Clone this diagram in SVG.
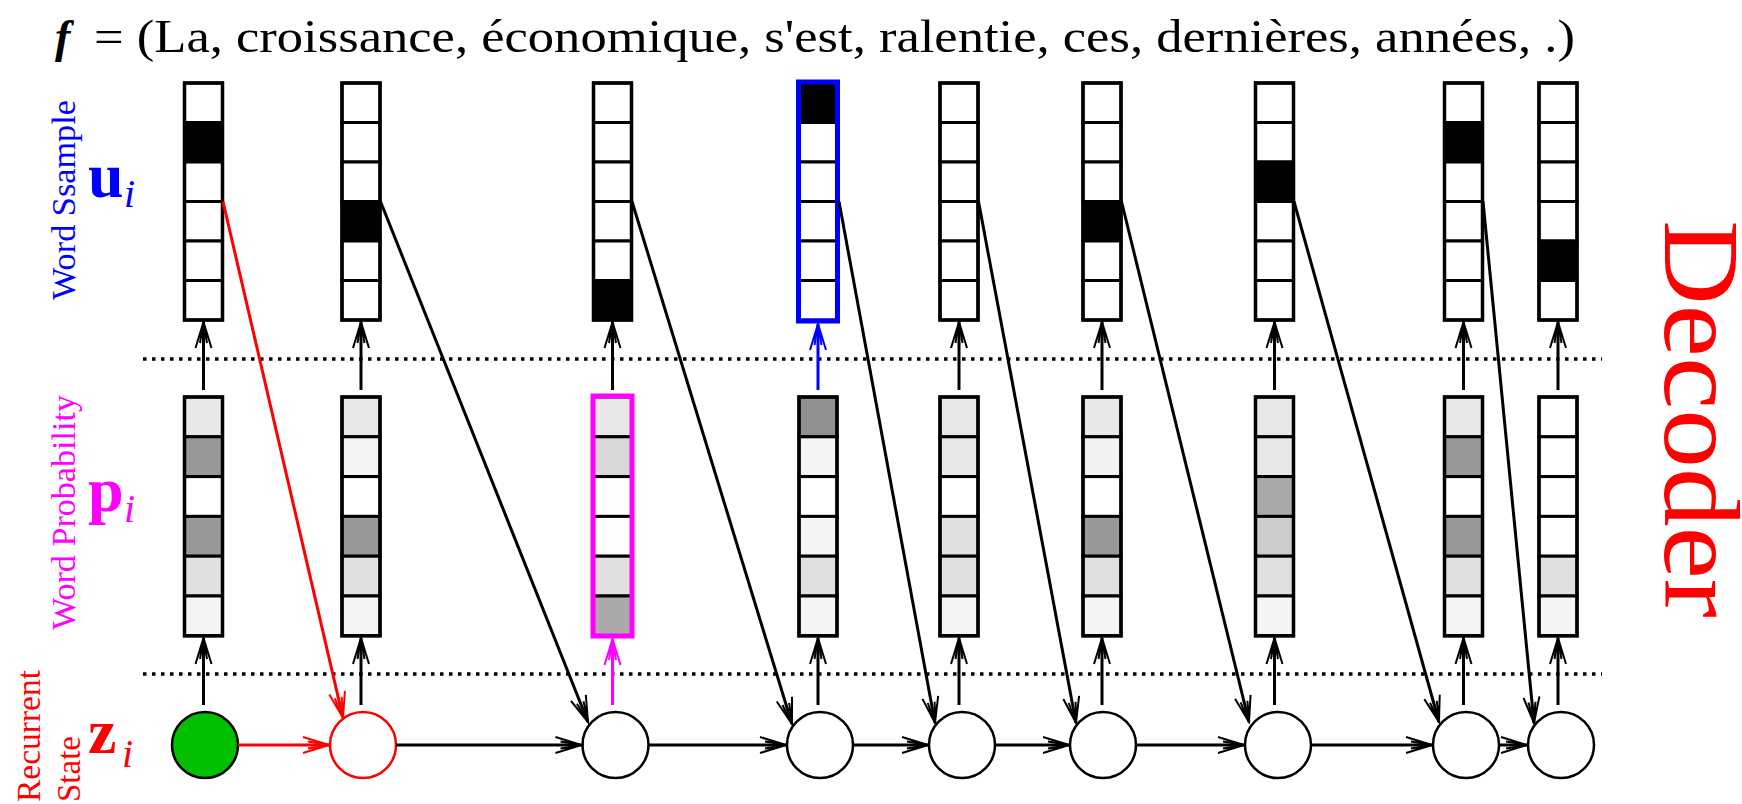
<svg xmlns="http://www.w3.org/2000/svg" width="1742" height="804" viewBox="0 0 1742 804">
  <style>
    text { font-family: "Liberation Serif", "Times New Roman", serif; }
    .cell { stroke: #000; stroke-width: 3; }
    .frame { fill: none; stroke: #000; stroke-width: 3.5; }
    .on { fill: #000; }
    .off { fill: #fff; }
    .state { fill: #fff; stroke: #000; stroke-width: 2.5; }
    .link { fill: none; stroke: #000; stroke-width: 3; }
    .link-red { fill: none; stroke: #ff0000; stroke-width: 3; }
    .sep { fill: none; stroke: #000; stroke-width: 3.5; stroke-dasharray: 3.5 5.5; }
    .lbl { font-size: 33px; }
  </style>
  <defs>
    <marker id="ah" markerUnits="userSpaceOnUse" viewBox="-28 -10 30 20" markerWidth="30" markerHeight="20" refX="0" refY="0" orient="auto">
      <path d="M-26,-8 L0,0 L-26,8 M-21,-3.5 L0,0 L-21,3.5" fill="none" stroke="#000" stroke-width="2"/>
    </marker>
    <marker id="ah-red" markerUnits="userSpaceOnUse" viewBox="-28 -10 30 20" markerWidth="30" markerHeight="20" refX="0" refY="0" orient="auto">
      <path d="M-26,-8 L0,0 L-26,8 M-21,-3.5 L0,0 L-21,3.5" fill="none" stroke="#ff0000" stroke-width="2"/>
    </marker>
    <marker id="ah-mag" markerUnits="userSpaceOnUse" viewBox="-28 -10 30 20" markerWidth="30" markerHeight="20" refX="0" refY="0" orient="auto">
      <path d="M-26,-8 L0,0 L-26,8 M-21,-3.5 L0,0 L-21,3.5" fill="none" stroke="#ff00ff" stroke-width="2"/>
    </marker>
    <marker id="ah-blue" markerUnits="userSpaceOnUse" viewBox="-28 -10 30 20" markerWidth="30" markerHeight="20" refX="0" refY="0" orient="auto">
      <path d="M-26,-8 L0,0 L-26,8 M-21,-3.5 L0,0 L-21,3.5" fill="none" stroke="#0000ff" stroke-width="2"/>
    </marker>
  </defs>

  <rect width="1742" height="804" fill="#fff"/>

  <!-- title: target sentence -->
  <text x="55" y="52" font-family="Liberation Serif, serif" font-size="46" font-style="italic" font-weight="bold">f</text>
  <text x="94" y="52" font-family="Liberation Serif, serif" font-size="46" textLength="1481" lengthAdjust="spacingAndGlyphs">= (La, croissance, économique, s'est, ralentie, ces, dernières, années, .)</text>

  <!-- row labels -->
  <text class="lbl" font-family="Liberation Serif, serif" fill="#0000ff" transform="translate(75,300) rotate(-90)" textLength="200" lengthAdjust="spacingAndGlyphs">Word Ssample</text>
  <text x="88" y="197" font-family="Liberation Serif, serif" font-size="64" font-weight="bold" fill="#0000ff">u</text>
  <text x="124" y="207" font-family="Liberation Serif, serif" font-size="40" font-style="italic" fill="#0000ff">i</text>

  <text class="lbl" font-family="Liberation Serif, serif" fill="#ff00ff" transform="translate(75,630) rotate(-90)" textLength="235" lengthAdjust="spacingAndGlyphs">Word Probability</text>
  <text x="88" y="511" font-family="Liberation Serif, serif" font-size="64" font-weight="bold" fill="#ff00ff">p</text>
  <text x="124" y="522" font-family="Liberation Serif, serif" font-size="40" font-style="italic" fill="#ff00ff">i</text>

  <text class="lbl" font-family="Liberation Serif, serif" fill="#ff0000" transform="translate(40,802) rotate(-90)" textLength="132" lengthAdjust="spacingAndGlyphs">Recurrent</text>
  <text class="lbl" font-family="Liberation Serif, serif" fill="#ff0000" transform="translate(80,802) rotate(-90)" textLength="66" lengthAdjust="spacingAndGlyphs">State</text>
  <text x="88" y="753" font-family="Liberation Serif, serif" font-size="64" font-weight="bold" fill="#ff0000">z</text>
  <text x="122" y="767" font-family="Liberation Serif, serif" font-size="40" font-style="italic" fill="#ff0000">i</text>

  <text x="0" y="0" font-family="Liberation Serif, serif" font-size="108" fill="#ff0000" transform="translate(1665,220) rotate(90)" textLength="398" lengthAdjust="spacingAndGlyphs">Decoder</text>

  <!-- layer separators -->
  <line class="sep" x1="143" y1="359" x2="1602" y2="359"/>
  <line class="sep" x1="143" y1="674" x2="1602" y2="674"/>

  <!-- word sample vectors u_i (one-hot) -->
  <g id="u1" transform="translate(184.5,0)">
    <rect class="cell off" x="0" y="83" width="38" height="39.5"/><rect class="cell on" x="0" y="122.5" width="38" height="39.5"/><rect class="cell off" x="0" y="162" width="38" height="39.5"/><rect class="cell off" x="0" y="201.5" width="38" height="39.5"/><rect class="cell off" x="0" y="241" width="38" height="39.5"/><rect class="cell off" x="0" y="280.5" width="38" height="39.5"/>
    <rect class="frame" x="0" y="83" width="38" height="237"/>
  </g>
  <g id="u2" transform="translate(342,0)">
    <rect class="cell off" x="0" y="83" width="38" height="39.5"/><rect class="cell off" x="0" y="122.5" width="38" height="39.5"/><rect class="cell off" x="0" y="162" width="38" height="39.5"/><rect class="cell on" x="0" y="201.5" width="38" height="39.5"/><rect class="cell off" x="0" y="241" width="38" height="39.5"/><rect class="cell off" x="0" y="280.5" width="38" height="39.5"/>
    <rect class="frame" x="0" y="83" width="38" height="237"/>
  </g>
  <g id="u3" transform="translate(593.5,0)">
    <rect class="cell off" x="0" y="83" width="38" height="39.5"/><rect class="cell off" x="0" y="122.5" width="38" height="39.5"/><rect class="cell off" x="0" y="162" width="38" height="39.5"/><rect class="cell off" x="0" y="201.5" width="38" height="39.5"/><rect class="cell off" x="0" y="241" width="38" height="39.5"/><rect class="cell on" x="0" y="280.5" width="38" height="39.5"/>
    <rect class="frame" x="0" y="83" width="38" height="237"/>
  </g>
  <g id="u4" transform="translate(799,0)">
    <rect class="cell on" x="0" y="83" width="38" height="39.5"/><rect class="cell off" x="0" y="122.5" width="38" height="39.5"/><rect class="cell off" x="0" y="162" width="38" height="39.5"/><rect class="cell off" x="0" y="201.5" width="38" height="39.5"/><rect class="cell off" x="0" y="241" width="38" height="39.5"/><rect class="cell off" x="0" y="280.5" width="38" height="39.5"/>
    <rect x="-0.5" y="82" width="39" height="239" fill="none" stroke="#0000ff" stroke-width="5"/>
  </g>
  <g id="u5" transform="translate(940,0)">
    <rect class="cell off" x="0" y="83" width="38" height="39.5"/><rect class="cell off" x="0" y="122.5" width="38" height="39.5"/><rect class="cell off" x="0" y="162" width="38" height="39.5"/><rect class="cell off" x="0" y="201.5" width="38" height="39.5"/><rect class="cell off" x="0" y="241" width="38" height="39.5"/><rect class="cell off" x="0" y="280.5" width="38" height="39.5"/>
    <rect class="frame" x="0" y="83" width="38" height="237"/>
  </g>
  <g id="u6" transform="translate(1083,0)">
    <rect class="cell off" x="0" y="83" width="38" height="39.5"/><rect class="cell off" x="0" y="122.5" width="38" height="39.5"/><rect class="cell off" x="0" y="162" width="38" height="39.5"/><rect class="cell on" x="0" y="201.5" width="38" height="39.5"/><rect class="cell off" x="0" y="241" width="38" height="39.5"/><rect class="cell off" x="0" y="280.5" width="38" height="39.5"/>
    <rect class="frame" x="0" y="83" width="38" height="237"/>
  </g>
  <g id="u7" transform="translate(1255.5,0)">
    <rect class="cell off" x="0" y="83" width="38" height="39.5"/><rect class="cell off" x="0" y="122.5" width="38" height="39.5"/><rect class="cell on" x="0" y="162" width="38" height="39.5"/><rect class="cell off" x="0" y="201.5" width="38" height="39.5"/><rect class="cell off" x="0" y="241" width="38" height="39.5"/><rect class="cell off" x="0" y="280.5" width="38" height="39.5"/>
    <rect class="frame" x="0" y="83" width="38" height="237"/>
  </g>
  <g id="u8" transform="translate(1444.5,0)">
    <rect class="cell off" x="0" y="83" width="38" height="39.5"/><rect class="cell on" x="0" y="122.5" width="38" height="39.5"/><rect class="cell off" x="0" y="162" width="38" height="39.5"/><rect class="cell off" x="0" y="201.5" width="38" height="39.5"/><rect class="cell off" x="0" y="241" width="38" height="39.5"/><rect class="cell off" x="0" y="280.5" width="38" height="39.5"/>
    <rect class="frame" x="0" y="83" width="38" height="237"/>
  </g>
  <g id="u9" transform="translate(1539,0)">
    <rect class="cell off" x="0" y="83" width="38" height="39.5"/><rect class="cell off" x="0" y="122.5" width="38" height="39.5"/><rect class="cell off" x="0" y="162" width="38" height="39.5"/><rect class="cell off" x="0" y="201.5" width="38" height="39.5"/><rect class="cell on" x="0" y="241" width="38" height="39.5"/><rect class="cell off" x="0" y="280.5" width="38" height="39.5"/>
    <rect class="frame" x="0" y="83" width="38" height="237"/>
  </g>

  <!-- word probability vectors p_i -->
  <g id="p1" transform="translate(184.5,0)">
    <rect class="cell" fill="#e8e8e8" x="0" y="397" width="38" height="39.8"/><rect class="cell" fill="#999999" x="0" y="436.8" width="38" height="39.8"/><rect class="cell" fill="#ffffff" x="0" y="476.6" width="38" height="39.8"/><rect class="cell" fill="#999999" x="0" y="516.4" width="38" height="39.8"/><rect class="cell" fill="#e0e0e0" x="0" y="556.2" width="38" height="39.8"/><rect class="cell" fill="#f4f4f4" x="0" y="596" width="38" height="39.8"/>
    <rect class="frame" x="0" y="397" width="38" height="238.8"/>
  </g>
  <g id="p2" transform="translate(342,0)">
    <rect class="cell" fill="#e8e8e8" x="0" y="397" width="38" height="39.8"/><rect class="cell" fill="#f4f4f4" x="0" y="436.8" width="38" height="39.8"/><rect class="cell" fill="#ffffff" x="0" y="476.6" width="38" height="39.8"/><rect class="cell" fill="#999999" x="0" y="516.4" width="38" height="39.8"/><rect class="cell" fill="#e0e0e0" x="0" y="556.2" width="38" height="39.8"/><rect class="cell" fill="#f4f4f4" x="0" y="596" width="38" height="39.8"/>
    <rect class="frame" x="0" y="397" width="38" height="238.8"/>
  </g>
  <g id="p3" transform="translate(593.5,0)">
    <rect class="cell" fill="#e8e8e8" x="0" y="397" width="38" height="39.8"/><rect class="cell" fill="#d8d8d8" x="0" y="436.8" width="38" height="39.8"/><rect class="cell" fill="#ffffff" x="0" y="476.6" width="38" height="39.8"/><rect class="cell" fill="#ffffff" x="0" y="516.4" width="38" height="39.8"/><rect class="cell" fill="#e0e0e0" x="0" y="556.2" width="38" height="39.8"/><rect class="cell" fill="#aaaaaa" x="0" y="596" width="38" height="39.8"/>
    <rect x="-0.5" y="396" width="39" height="240" fill="none" stroke="#ff00ff" stroke-width="5"/>
  </g>
  <g id="p4" transform="translate(799,0)">
    <rect class="cell" fill="#909090" x="0" y="397" width="38" height="39.8"/><rect class="cell" fill="#f4f4f4" x="0" y="436.8" width="38" height="39.8"/><rect class="cell" fill="#ffffff" x="0" y="476.6" width="38" height="39.8"/><rect class="cell" fill="#f4f4f4" x="0" y="516.4" width="38" height="39.8"/><rect class="cell" fill="#e0e0e0" x="0" y="556.2" width="38" height="39.8"/><rect class="cell" fill="#f4f4f4" x="0" y="596" width="38" height="39.8"/>
    <rect class="frame" x="0" y="397" width="38" height="238.8"/>
  </g>
  <g id="p5" transform="translate(940,0)">
    <rect class="cell" fill="#e8e8e8" x="0" y="397" width="38" height="39.8"/><rect class="cell" fill="#e8e8e8" x="0" y="436.8" width="38" height="39.8"/><rect class="cell" fill="#ffffff" x="0" y="476.6" width="38" height="39.8"/><rect class="cell" fill="#e0e0e0" x="0" y="516.4" width="38" height="39.8"/><rect class="cell" fill="#e0e0e0" x="0" y="556.2" width="38" height="39.8"/><rect class="cell" fill="#f4f4f4" x="0" y="596" width="38" height="39.8"/>
    <rect class="frame" x="0" y="397" width="38" height="238.8"/>
  </g>
  <g id="p6" transform="translate(1083,0)">
    <rect class="cell" fill="#e8e8e8" x="0" y="397" width="38" height="39.8"/><rect class="cell" fill="#f2f2f2" x="0" y="436.8" width="38" height="39.8"/><rect class="cell" fill="#ffffff" x="0" y="476.6" width="38" height="39.8"/><rect class="cell" fill="#999999" x="0" y="516.4" width="38" height="39.8"/><rect class="cell" fill="#e0e0e0" x="0" y="556.2" width="38" height="39.8"/><rect class="cell" fill="#f4f4f4" x="0" y="596" width="38" height="39.8"/>
    <rect class="frame" x="0" y="397" width="38" height="238.8"/>
  </g>
  <g id="p7" transform="translate(1255.5,0)">
    <rect class="cell" fill="#e8e8e8" x="0" y="397" width="38" height="39.8"/><rect class="cell" fill="#e8e8e8" x="0" y="436.8" width="38" height="39.8"/><rect class="cell" fill="#aaaaaa" x="0" y="476.6" width="38" height="39.8"/><rect class="cell" fill="#cccccc" x="0" y="516.4" width="38" height="39.8"/><rect class="cell" fill="#e0e0e0" x="0" y="556.2" width="38" height="39.8"/><rect class="cell" fill="#f4f4f4" x="0" y="596" width="38" height="39.8"/>
    <rect class="frame" x="0" y="397" width="38" height="238.8"/>
  </g>
  <g id="p8" transform="translate(1444.5,0)">
    <rect class="cell" fill="#e8e8e8" x="0" y="397" width="38" height="39.8"/><rect class="cell" fill="#999999" x="0" y="436.8" width="38" height="39.8"/><rect class="cell" fill="#ffffff" x="0" y="476.6" width="38" height="39.8"/><rect class="cell" fill="#999999" x="0" y="516.4" width="38" height="39.8"/><rect class="cell" fill="#e0e0e0" x="0" y="556.2" width="38" height="39.8"/><rect class="cell" fill="#f4f4f4" x="0" y="596" width="38" height="39.8"/>
    <rect class="frame" x="0" y="397" width="38" height="238.8"/>
  </g>
  <g id="p9" transform="translate(1539,0)">
    <rect class="cell" fill="#ffffff" x="0" y="397" width="38" height="39.8"/><rect class="cell" fill="#ffffff" x="0" y="436.8" width="38" height="39.8"/><rect class="cell" fill="#ffffff" x="0" y="476.6" width="38" height="39.8"/><rect class="cell" fill="#ffffff" x="0" y="516.4" width="38" height="39.8"/><rect class="cell" fill="#e0e0e0" x="0" y="556.2" width="38" height="39.8"/><rect class="cell" fill="#f4f4f4" x="0" y="596" width="38" height="39.8"/>
    <rect class="frame" x="0" y="397" width="38" height="238.8"/>
  </g>

  <!-- recurrent states z_i -->
  <g id="z0"><circle cx="205" cy="745" r="33" fill="#00c000" stroke="#000" stroke-width="2.5"/></g>
  <g id="z1"><circle cx="363" cy="745" r="33" fill="#fff" stroke="#ff0000" stroke-width="2.5"/></g>
  <g id="z2"><circle class="state" cx="615.5" cy="745" r="33"/></g>
  <g id="z3"><circle class="state" cx="820" cy="745" r="33"/></g>
  <g id="z4"><circle class="state" cx="962" cy="745" r="33"/></g>
  <g id="z5"><circle class="state" cx="1103" cy="745" r="33"/></g>
  <g id="z6"><circle class="state" cx="1278" cy="745" r="33"/></g>
  <g id="z7"><circle class="state" cx="1466" cy="745" r="33"/></g>
  <g id="z8"><circle class="state" cx="1561" cy="745" r="33"/></g>

  <!-- connectors -->
  <g id="connectors">
    <!-- state to probability -->
    <line class="link" x1="203.5" y1="705" x2="203.5" y2="638" marker-end="url(#ah)"/>
    <line class="link" x1="361" y1="705" x2="361" y2="638" marker-end="url(#ah)"/>
    <line x1="612.5" y1="705" x2="612.5" y2="639" fill="none" stroke="#ff00ff" stroke-width="3" marker-end="url(#ah-mag)"/>
    <line class="link" x1="818" y1="705" x2="818" y2="638" marker-end="url(#ah)"/>
    <line class="link" x1="959" y1="705" x2="959" y2="638" marker-end="url(#ah)"/>
    <line class="link" x1="1102" y1="705" x2="1102" y2="638" marker-end="url(#ah)"/>
    <line class="link" x1="1274.5" y1="705" x2="1274.5" y2="638" marker-end="url(#ah)"/>
    <line class="link" x1="1463.5" y1="705" x2="1463.5" y2="638" marker-end="url(#ah)"/>
    <line class="link" x1="1558" y1="705" x2="1558" y2="638" marker-end="url(#ah)"/>
    <!-- probability to sample -->
    <line class="link" x1="203.5" y1="390" x2="203.5" y2="322" marker-end="url(#ah)"/>
    <line class="link" x1="361" y1="390" x2="361" y2="322" marker-end="url(#ah)"/>
    <line class="link" x1="612.5" y1="390" x2="612.5" y2="322" marker-end="url(#ah)"/>
    <line x1="818" y1="390" x2="818" y2="324" fill="none" stroke="#0000ff" stroke-width="3" marker-end="url(#ah-blue)"/>
    <line class="link" x1="959" y1="390" x2="959" y2="322" marker-end="url(#ah)"/>
    <line class="link" x1="1102" y1="390" x2="1102" y2="322" marker-end="url(#ah)"/>
    <line class="link" x1="1274.5" y1="390" x2="1274.5" y2="322" marker-end="url(#ah)"/>
    <line class="link" x1="1463.5" y1="390" x2="1463.5" y2="322" marker-end="url(#ah)"/>
    <line class="link" x1="1558" y1="390" x2="1558" y2="322" marker-end="url(#ah)"/>
    <!-- sampled word fed back to next state -->
    <line class="link-red" x1="223" y1="201.5" x2="343" y2="718" marker-end="url(#ah-red)"/>
    <line class="link" x1="380.5" y1="201.5" x2="588" y2="722" marker-end="url(#ah)"/>
    <line class="link" x1="632" y1="201.5" x2="792" y2="724" marker-end="url(#ah)"/>
    <line class="link" x1="839" y1="201.5" x2="935" y2="723" marker-end="url(#ah)"/>
    <line class="link" x1="978.5" y1="201.5" x2="1076" y2="723" marker-end="url(#ah)"/>
    <line class="link" x1="1121.5" y1="201.5" x2="1249" y2="722" marker-end="url(#ah)"/>
    <line class="link" x1="1294" y1="201.5" x2="1439" y2="722" marker-end="url(#ah)"/>
    <line class="link" x1="1483" y1="201.5" x2="1534" y2="723" marker-end="url(#ah)"/>
    <!-- state recurrence -->
    <line class="link-red" x1="238" y1="745" x2="329" y2="745" marker-end="url(#ah-red)"/>
    <line class="link" x1="396" y1="745" x2="581.5" y2="745" marker-end="url(#ah)"/>
    <line class="link" x1="648.5" y1="745" x2="786" y2="745" marker-end="url(#ah)"/>
    <line class="link" x1="853" y1="745" x2="928" y2="745" marker-end="url(#ah)"/>
    <line class="link" x1="995" y1="745" x2="1069" y2="745" marker-end="url(#ah)"/>
    <line class="link" x1="1136" y1="745" x2="1244" y2="745" marker-end="url(#ah)"/>
    <line class="link" x1="1311" y1="745" x2="1432" y2="745" marker-end="url(#ah)"/>
    <line class="link" x1="1499" y1="745" x2="1527" y2="745" marker-end="url(#ah)"/>
  </g>
</svg>
